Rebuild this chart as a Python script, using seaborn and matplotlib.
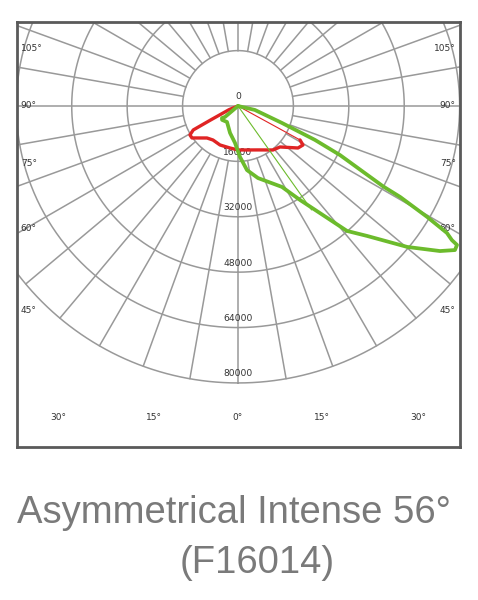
import numpy as np
import matplotlib.pyplot as plt
import seaborn as sns

# light intensity (cd) against angle from nadir, negative = left side
red_angle = [-90, -67.6, -62.9, -61.8, -58.9, -55.2, -44.1, -36.3, -24.8, -10.8, 0,
             11.6, 25, 38.5, 45.7, 55, 59, 61.3]
red_cd = [0, 2800, 8860, 14650, 16200, 16180, 12870, 12190, 12400, 12350, 12700,
          12970, 14000, 16240, 16950, 21150, 21890, 20420]

green_angle = [-90, -49.8, -53, -48.8, -34.5, -16.5, -4.6, 2.2, 8, 15.5, 28.5, 33.4,
               41.1, 44.8, 50.2, 54.3, 56.4, 57.6, 57.9, 58.7, 59.6, 60.7, 61.0,
               64.3, 66.2, 68.9, 76.8, 90]
green_cd = [0, 4900, 5800, 6100, 5600, 8100, 10700, 14700, 18700, 21600, 26600, 32500,
            47900, 52900, 63600, 71800, 75200, 74900, 72900, 70600, 63300, 53700, 48000,
            32700, 24300, 13600, 5000, 0]

# thin closing strokes
red_chord_angle = [61.3, 90]
red_chord_cd = [20420, 0]
green_chord_angle = [0, 35.3]
green_chord_cd = [0, 36800]

ring_values = [16000, 32000, 48000, 64000, 80000]
ring_labels = ['16000', '32000', '48000', '64000', '80000']
side_angles = [105, 90, 75, 60, 45]
bottom_angles = [-30, -15, 0, 15, 30]

grid_color = '#999999'
red = '#e02424'
green = '#6cbb2c'
label_color = '#333333'


def to_xy(angle, cd):
    a = np.radians(np.asarray(angle, dtype=float))
    cd = np.asarray(cd, dtype=float)
    return cd * np.sin(a), -cd * np.cos(a)


sns.set_style('white')
fig = plt.figure(figsize=(4.78, 6.0), dpi=100)
ax = fig.add_axes([17 / 478, 1 - 447 / 600, 443 / 478, 425 / 600])
xmin, xmax = -63800, 64100
ymin, ymax = -98500, 24260
ax.set_xticks([])
ax.set_yticks([])
for s in ax.spines.values():
    s.set_color('#5a5a5a')
    s.set_linewidth(2)

# rings
t = np.linspace(0, 360, 721)
for r in ring_values:
    cx, cy = to_xy(t, np.full_like(t, r))
    ax.plot(cx, cy, color=grid_color, lw=1.1, zorder=1)

# radial lines every 10 degrees, starting at the first ring
for a in range(0, 360, 10):
    if a in (0, 90, 270):
        continue
    lx, ly = to_xy([a, a], [16000, 80000])
    ax.plot(lx, ly, color=grid_color, lw=1.1, zorder=1)
hx, hy = to_xy([-90, 90], [80000, 80000])
ax.plot(hx, hy, color=grid_color, lw=1.1, zorder=1)
vx, vy = to_xy([0, 0], [0, 80000])
ax.plot(vx, vy, color=grid_color, lw=1.1, zorder=1)

# ring labels
ax.text(0, 2600, '0', ha='center', va='center', fontsize=6.6, color=label_color, zorder=2)
for r, lab in zip(ring_values, ring_labels):
    ax.text(0, -r + 2600, lab, ha='center', va='center', fontsize=6.6,
            color=label_color, zorder=2)

# angle labels along the frame
edge = 61500
for a in side_angles:
    y = -edge / np.tan(np.radians(a)) if a != 90 else 0
    if a == 45:
        y += 2500
    ax.text(-edge - 1200, y, f'{a}°', ha='left', va='center', fontsize=6.5, color=label_color)
    ax.text(edge + 1400, y, f'{a}°', ha='right', va='center', fontsize=6.5, color=label_color)
ybot = -90100
for a in bottom_angles:
    ax.text(-ybot * np.tan(np.radians(a)), ybot, f'{abs(a)}°', ha='center', va='center',
            fontsize=6.5, color=label_color)

# curves
rx, ry = to_xy(red_angle, red_cd)
sns.lineplot(x=rx, y=ry, sort=False, estimator=None, color=red, lw=2.4, ax=ax, zorder=3)
cx, cy = to_xy(red_chord_angle, red_chord_cd)
sns.lineplot(x=cx, y=cy, sort=False, estimator=None, color=red, lw=0.8, ax=ax, zorder=3)
gx, gy = to_xy(green_angle, green_cd)
sns.lineplot(x=gx, y=gy, sort=False, estimator=None, color=green, lw=2.7, ax=ax, zorder=4)
cx, cy = to_xy(green_chord_angle, green_chord_cd)
sns.lineplot(x=cx, y=cy, sort=False, estimator=None, color=green, lw=0.8, ax=ax, zorder=4)

ax.set_xlim(xmin, xmax)
ax.set_ylim(ymin, ymax)

fig.text(234 / 478, 1 - 523 / 600, 'Asymmetrical Intense 56°', ha='center', va='baseline',
         fontsize=27.5, color='#7a7a7a', family='Liberation Sans')
fig.text(257 / 478, 1 - 573 / 600, '(F16014)', ha='center', va='baseline',
         fontsize=27.5, color='#7a7a7a', family='Liberation Sans')

fig.savefig('out.png', dpi=100, facecolor='white')
